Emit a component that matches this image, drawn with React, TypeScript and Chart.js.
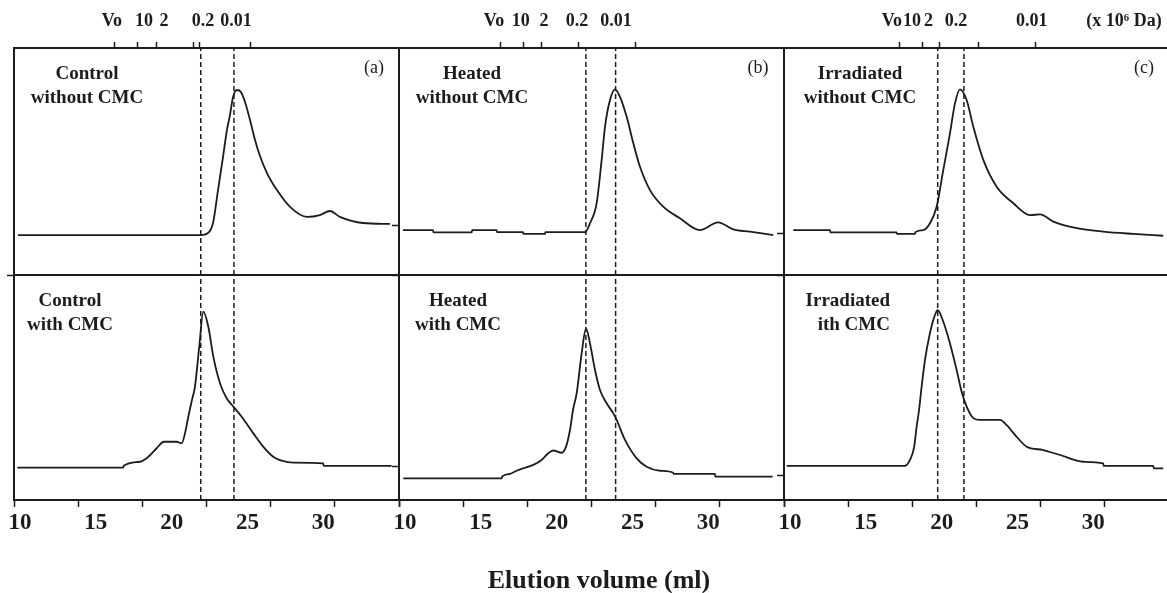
import React, { useEffect, useRef } from "react";
import { Chart, registerables } from "chart.js";

Chart.register(...registerables);

type Pt = [number, number];

// ---- axes (elution volume, ml) ----
const X_MIN = 9.6;
const X_MAX = 35;
const Y_MIN = 0;
const Y_MAX = 100;

const bottomTickValues = [10, 15, 20, 25, 30];
const bottomTickLabels = ["10", "15", "20", "25", "30"];
const bottomTickMarks = [9.6, 13.83, 18.07, 22.3, 26.53, 30.77, 35];

// ---- molecular weight markers (x 10^6 Da) on the top axis ----
const topLabelsA = ["Vo", "10", "2", "0.2", "0.01"];
const topLabelPosA = [16.06, 18.18, 19.5, 22.07, 24.24];
const topMarksA = [16.26, 17.78, 18.97, 21.47, 21.87, 25.17];

const topLabelsB = ["Vo", "10", "2", "0.2", "0.01"];
const topLabelPosB = [15.87, 17.63, 19.16, 21.34, 23.91];
const topMarksB = [16.31, 17.8, 19.01, 21.47, 25.21];

const topLabelsC = ["Vo", "10", "2", "0.2", "0.01", "(x 10\u2076 Da)"];
const topLabelPosC = [16.72, 18.04, 19.14, 20.95, 25.94, 32.03];
const topMarksC = [17.25, 18.75, 19.89, 22.46, 26.16];

// ---- dashed reference lines (ml) ----
const dashedA = [21.92, 24.11];
const dashedB = [21.93, 23.89];
const dashedC = [19.74, 21.47];

// ---- left-axis tick marks ----
const yMarksA0 = [0];
const yMarksA1: number[] = [];
const yMarksB0 = [0, 22];
const yMarksB1 = [15.1];
const yMarksC0 = [0, 18.5];
const yMarksC1 = [10.7];

// ---- elution profiles: [volume ml, relative absorbance] ----
const controlWithoutCMC: Pt[] = [
  [9.86, 17.6], [14.0, 17.6], [18.0, 17.6], [21.87, 17.6], [22.4, 18.5], [22.73, 22.9],
  [23.06, 37.4], [23.39, 52.0], [23.65, 63.9], [23.85, 70.5], [24.05, 78.4], [24.31, 81.5],
  [24.57, 80.6], [24.84, 76.2], [25.17, 68.3], [25.5, 59.5], [25.83, 52.4], [26.29, 44.9],
  [26.95, 37.4], [27.81, 30.0], [28.93, 25.6], [29.78, 26.4], [30.44, 28.2], [31.1, 25.6],
  [32.62, 22.9], [34.4, 22.5],
];

const heatedWithoutCMC: Pt[] = [
  [9.86, 19.8], [11.84, 19.8], [11.87, 18.8], [14.4, 18.8], [14.43, 19.8], [16.04, 19.8],
  [16.07, 18.9], [17.78, 18.9], [17.81, 18.1], [19.23, 18.1], [19.26, 18.9], [21.87, 18.9],
  [22.2, 22.8], [22.64, 31.7], [22.97, 50.7], [23.19, 65.3], [23.52, 77.1], [23.85, 81.8],
  [24.18, 78.5], [24.62, 69.7], [25.06, 58.0], [25.5, 47.7], [26.16, 37.4], [27.03, 30.1],
  [28.13, 25.0], [29.45, 19.8], [30.66, 23.2], [31.65, 20.1], [32.75, 19.1], [34.29, 17.6],
];

const irradiatedWithoutCMC: Pt[] = [
  [10.21, 19.8], [12.63, 19.8], [12.66, 18.8], [17.03, 18.8], [17.06, 18.1], [18.24, 18.1],
  [18.27, 18.9], [18.79, 19.8], [19.23, 22.8], [19.67, 30.1], [20.11, 46.3], [20.55, 62.4],
  [20.88, 75.6], [21.21, 81.8], [21.65, 77.1], [22.09, 65.3], [22.75, 50.7], [23.63, 38.9],
  [24.73, 31.6], [25.83, 26.4], [26.49, 26.7], [27.37, 23.5], [28.91, 20.6], [30.66, 19.1],
  [32.64, 18.1], [34.62, 17.3],
];

const controlWithCMC: Pt[] = [
  [9.82, 14.4], [16.81, 14.4], [16.84, 15.2], [17.91, 17.0], [18.46, 19.2], [19.01, 23.0],
  [19.49, 25.9], [20.33, 25.9], [20.66, 25.2], [20.88, 29.6], [21.1, 37.0], [21.34, 44.4],
  [21.54, 50.4], [21.82, 68.1], [22.09, 83.7], [22.42, 77.0], [22.75, 63.7], [23.19, 51.9],
  [23.63, 45.2], [24.07, 41.5], [24.62, 37.0], [25.39, 29.6], [26.04, 23.7], [26.7, 19.2],
  [27.26, 17.5], [28.02, 16.6], [30.0, 16.3], [30.03, 15.2], [34.51, 15.2],
];

const heatedWithCMC: Pt[] = [
  [9.88, 9.6], [16.37, 9.6], [16.4, 10.4], [16.92, 11.6], [17.36, 13.0], [17.8, 14.1],
  [18.46, 15.6], [19.01, 17.8], [19.45, 20.8], [19.78, 22.0], [20.33, 21.0], [20.62, 23.7],
  [20.88, 31.1], [21.08, 40.0], [21.32, 47.4], [21.65, 65.2], [21.94, 76.3], [22.2, 69.6],
  [22.53, 57.8], [22.86, 48.9], [23.3, 43.0], [23.74, 38.5], [23.96, 35.6], [24.51, 26.7],
  [25.28, 18.5], [25.94, 14.8], [26.82, 13.0], [27.69, 12.1], [27.72, 11.6], [30.44, 11.6],
  [30.47, 10.4], [34.25, 10.4],
];

const irradiatedWithCMC: Pt[] = [
  [9.78, 15.2], [17.58, 15.2], [17.91, 17.8], [18.19, 23.7], [18.35, 32.6], [18.51, 40.0],
  [18.68, 50.4], [18.9, 62.2], [19.18, 72.6], [19.45, 80.0], [19.74, 84.4], [20.11, 79.2],
  [20.55, 69.6], [20.99, 57.8], [21.32, 48.1], [21.65, 41.5], [22.09, 36.4], [22.53, 35.6],
  [23.85, 35.6], [24.29, 33.3], [24.95, 28.1], [25.61, 23.7], [26.7, 22.2], [27.81, 20.0],
  [29.34, 17.0], [30.66, 16.3], [30.69, 15.2], [33.96, 15.2], [34.0, 14.1], [34.62, 14.1],
];

// ---- styling / layout ----
const INK = "#1c1c1c";
const CLEAR = "rgba(0,0,0,0)";
const SERIF = "'Liberation Serif', 'Times New Roman', Times, serif";
const COL_LEFT = [14, 399, 784];
const CANVAS_W = 413;
const TOP_H = 290;
const BOT_H = 333;
const BOT_TOP = 260;

type Item = { value: number; label: string; mark: boolean };

function mergeTicks(values: number[], labels: string[], marks: number[]): Item[] {
  const items: Item[] = [];
  values.forEach((v, i) => items.push({ value: v, label: labels[i], mark: false }));
  marks.forEach((m) => items.push({ value: m, label: "", mark: true }));
  items.sort((a, b) => a.value - b.value);
  return items;
}

type Spec = {
  key: string;
  col: number;
  row: 0 | 1;
  data: Pt[];
  dashed: number[];
  yMarks: number[];
  topLabels?: string[];
  topPos?: number[];
  topMarks?: number[];
};

const specs: Spec[] = [
  { key: "a0", col: 0, row: 0, data: controlWithoutCMC, dashed: dashedA, yMarks: yMarksA0, topLabels: topLabelsA, topPos: topLabelPosA, topMarks: topMarksA },
  { key: "b0", col: 1, row: 0, data: heatedWithoutCMC, dashed: dashedB, yMarks: yMarksB0, topLabels: topLabelsB, topPos: topLabelPosB, topMarks: topMarksB },
  { key: "c0", col: 2, row: 0, data: irradiatedWithoutCMC, dashed: dashedC, yMarks: yMarksC0, topLabels: topLabelsC, topPos: topLabelPosC, topMarks: topMarksC },
  { key: "a1", col: 0, row: 1, data: controlWithCMC, dashed: dashedA, yMarks: yMarksA1 },
  { key: "b1", col: 1, row: 1, data: heatedWithCMC, dashed: dashedB, yMarks: yMarksB1 },
  { key: "c1", col: 2, row: 1, data: irradiatedWithCMC, dashed: dashedC, yMarks: yMarksC1 },
];

function buildConfig(spec: Spec): any {
  const isTop = spec.row === 0;
  const bottomItems = mergeTicks(bottomTickValues, bottomTickLabels, bottomTickMarks);
  const topItems = isTop ? mergeTicks(spec.topPos || [], spec.topLabels || [], spec.topMarks || []) : [];
  const yItems: Item[] = spec.yMarks.length
    ? spec.yMarks.map((v) => ({ value: v, label: "", mark: true }))
    : [{ value: 0, label: "", mark: false }];

  const datasets: any[] = [
    {
      data: spec.data.map(([x, y]) => ({ x, y })),
      borderColor: INK,
      borderWidth: 1.8,
      pointRadius: 0,
      cubicInterpolationMode: "monotone",
      fill: false,
    },
    ...spec.dashed.map((x) => ({
      data: [{ x, y: Y_MIN }, { x, y: Y_MAX }],
      borderColor: INK,
      borderWidth: 1.5,
      borderDash: [5, 3],
      pointRadius: 0,
      fill: false,
    })),
  ];

  const scales: any = {
    x: {
      type: "linear",
      position: "bottom",
      min: X_MIN,
      max: X_MAX,
      afterFit: (s: any) => {
        s.height = isTop ? 0 : 93;
      },
      border: { display: true, color: INK, width: 2 },
      grid: isTop
        ? { display: false }
        : {
            display: true,
            drawOnChartArea: false,
            drawTicks: true,
            tickLength: 7,
            tickWidth: 1.5,
            tickColor: (ctx: any) => (bottomItems[ctx.index] && bottomItems[ctx.index].mark ? INK : CLEAR),
          },
      ...(isTop
        ? { ticks: { display: false } }
        : {
            afterBuildTicks: (s: any) => {
              s.ticks = bottomItems.map((t) => ({ value: t.value }));
            },
            ticks: {
              display: true,
              autoSkip: false,
              maxRotation: 0,
              minRotation: 0,
              padding: 2,
              color: INK,
              font: { family: SERIF, size: 23, weight: "bold" },
              callback: (_v: any, i: number) => (bottomItems[i] ? bottomItems[i].label : ""),
            },
          }),
    },
    y: {
      type: "linear",
      position: "left",
      min: Y_MIN,
      max: Y_MAX,
      afterFit: (s: any) => {
        s.width = 0;
      },
      afterBuildTicks: (s: any) => {
        s.ticks = yItems.map((t) => ({ value: t.value }));
      },
      border: { display: true, color: INK, width: 2 },
      grid: {
        display: true,
        drawOnChartArea: false,
        drawTicks: true,
        tickLength: 7,
        tickWidth: 1.5,
        tickColor: (ctx: any) => (yItems[ctx.index] && yItems[ctx.index].mark ? INK : CLEAR),
      },
      ticks: { display: false },
    },
    yR: {
      type: "linear",
      position: "right",
      display: true,
      min: Y_MIN,
      max: Y_MAX,
      afterFit: (s: any) => {
        s.width = 0;
      },
      border: { display: true, color: INK, width: 2 },
      grid: { display: false },
      ticks: { display: false },
    },
  };

  if (isTop) {
    scales.xT = {
      type: "linear",
      position: "top",
      display: true,
      min: X_MIN,
      max: X_MAX,
      afterFit: (s: any) => {
        s.height = 48;
      },
      afterBuildTicks: (s: any) => {
        s.ticks = topItems.map((t) => ({ value: t.value }));
      },
      border: { display: true, color: INK, width: 2 },
      grid: {
        display: true,
        drawOnChartArea: false,
        drawTicks: true,
        tickLength: 6,
        tickWidth: 1.5,
        tickColor: (ctx: any) => (topItems[ctx.index] && topItems[ctx.index].mark ? INK : CLEAR),
      },
      ticks: {
        display: true,
        autoSkip: false,
        maxRotation: 0,
        minRotation: 0,
        padding: 9.5,
        color: INK,
        font: { family: SERIF, size: 18, weight: "bold" },
        callback: (_v: any, i: number) => (topItems[i] ? topItems[i].label : ""),
      },
    };
  }

  return {
    type: "line",
    data: { datasets },
    options: {
      responsive: false,
      animation: false,
      devicePixelRatio: 1,
      parsing: true,
      layout: {
        padding: { left: 14, right: 14, top: isTop ? 0 : 15, bottom: isTop ? 15 : 0 },
      },
      plugins: {
        legend: { display: false },
        tooltip: { enabled: false },
        title: { display: false },
      },
      elements: { line: { tension: 0 } },
      scales,
    },
  };
}

function Panel({ spec }: { spec: Spec }) {
  const ref = useRef<HTMLCanvasElement | null>(null);
  useEffect(() => {
    if (!ref.current) return;
    const chart = new Chart(ref.current, buildConfig(spec));
    return () => chart.destroy();
  }, [spec]);
  const isTop = spec.row === 0;
  const h = isTop ? TOP_H : BOT_H;
  return (
    <canvas
      ref={ref}
      width={CANVAS_W}
      height={h}
      style={{
        position: "absolute",
        left: COL_LEFT[spec.col] - 14,
        top: isTop ? 0 : BOT_TOP,
        width: CANVAS_W,
        height: h,
      }}
    />
  );
}

function TextBlock({
  lines,
  x,
  y,
  align = "center",
}: {
  lines: string[];
  x: number;
  y: number;
  align?: "center" | "right";
}) {
  const w = 300;
  return (
    <div
      style={{
        position: "absolute",
        left: align === "center" ? x - w / 2 : x - w,
        width: w,
        top: y - 12,
        textAlign: align,
        fontFamily: SERIF,
        fontWeight: "bold",
        fontSize: 19,
        lineHeight: "24px",
        color: INK,
        whiteSpace: "nowrap",
      }}
    >
      {lines.map((l, i) => (
        <div key={i}>{l}</div>
      ))}
    </div>
  );
}

function Letter({ text, x, y }: { text: string; x: number; y: number }) {
  return (
    <div
      style={{
        position: "absolute",
        left: x - 30,
        width: 60,
        top: y - 13,
        textAlign: "center",
        fontFamily: SERIF,
        fontSize: 18,
        lineHeight: "22px",
        color: INK,
      }}
    >
      {text}
    </div>
  );
}

export default function App() {
  return (
    <div
      style={{
        position: "fixed",
        left: 0,
        top: 0,
        width: 1167,
        height: 593,
        overflow: "hidden",
        background: "#ffffff",
      }}
    >
      {specs.map((s) => (
        <Panel key={s.key} spec={s} />
      ))}
      <TextBlock lines={["Control", "without CMC"]} x={87} y={73} />
      <TextBlock lines={["Heated", "without CMC"]} x={472} y={73} />
      <TextBlock lines={["Irradiated", "without CMC"]} x={860} y={73} />
      <TextBlock lines={["Control", "with CMC"]} x={70} y={300} />
      <TextBlock lines={["Heated", "with CMC"]} x={458} y={300} />
      <TextBlock lines={["Irradiated", "ith CMC"]} x={890} y={300} align="right" />
      <Letter text="(a)" x={374} y={69} />
      <Letter text="(b)" x={758} y={69} />
      <Letter text="(c)" x={1144} y={69} />
      <div
        style={{
          position: "absolute",
          left: 599 - 200,
          width: 400,
          top: 565,
          textAlign: "center",
          fontFamily: SERIF,
          fontWeight: "bold",
          fontSize: 26,
          lineHeight: "30px",
          color: INK,
        }}
      >
        Elution volume (ml)
      </div>
    </div>
  );
}
